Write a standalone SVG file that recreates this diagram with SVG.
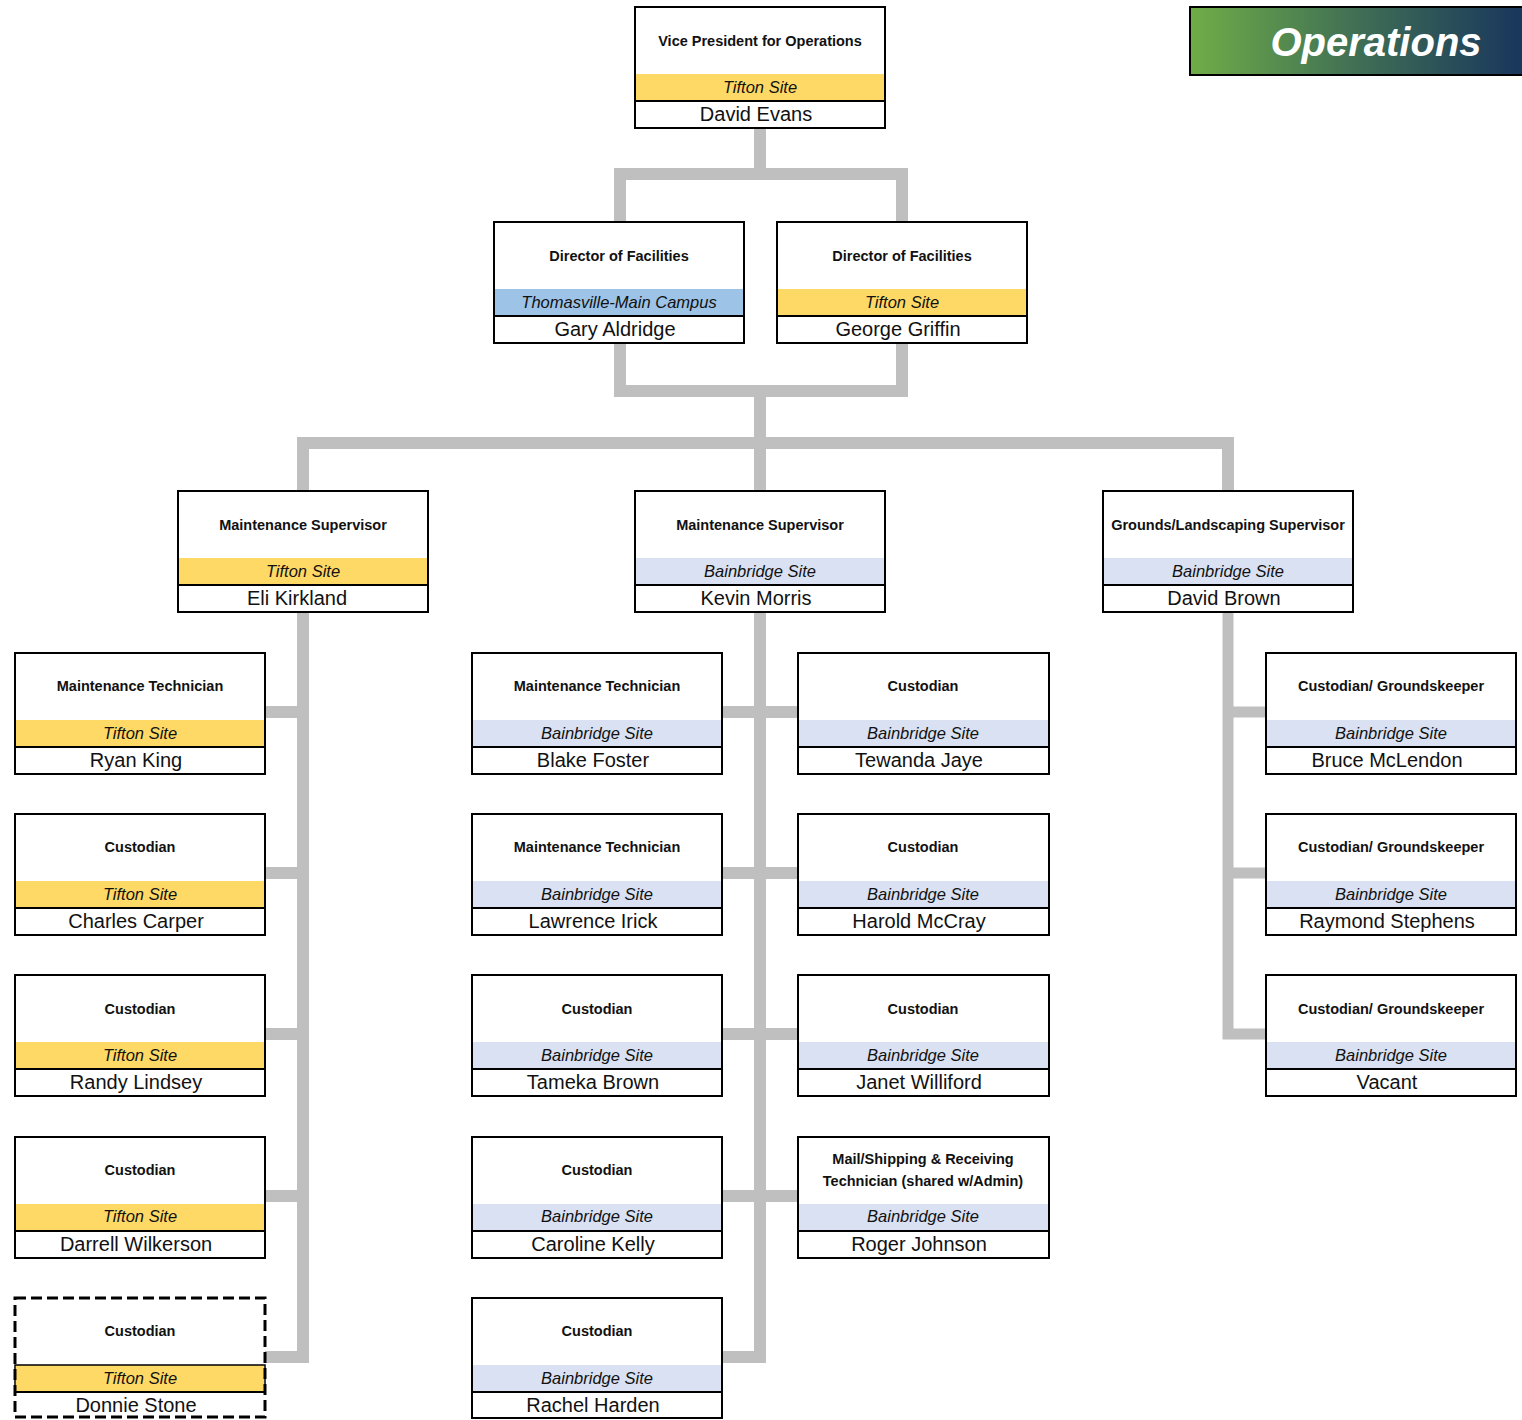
<svg xmlns="http://www.w3.org/2000/svg" width="1522" height="1420" viewBox="0 0 1522 1420">
<defs>
<linearGradient id="hdr" x1="0" y1="0" x2="1" y2="0">
<stop offset="0" stop-color="#70AD47"/>
<stop offset="0.5" stop-color="#3F6E55"/>
<stop offset="1" stop-color="#17335D"/>
</linearGradient>
</defs>
<style>
.box{fill:#fff;stroke:none}
.out{fill:none;stroke:#000;stroke-width:2}
.dash{fill:none;stroke:#000;stroke-width:3;stroke-dasharray:11 5}
.div{stroke:#000;stroke-width:2}
.tif{fill:#FFD966}
.bain{fill:#D9E1F2}
.thom{fill:#9DC3E6}
.bandline{fill:none;stroke:#000;stroke-width:1.5}
.t{font-family:"Liberation Sans",Arial,sans-serif;font-weight:bold;font-size:14.5px;fill:#111;text-anchor:middle}
.s{font-family:"Liberation Sans",Arial,sans-serif;font-style:italic;font-size:16.5px;fill:#111;text-anchor:middle}
.n{font-family:"Liberation Sans",Arial,sans-serif;font-size:20px;fill:#111;text-anchor:middle}
.c{fill:none;stroke:#BFBFBF;stroke-width:12;stroke-linecap:butt;stroke-linejoin:miter}
.c2{fill:none;stroke:#BFBFBF;stroke-width:11;stroke-linecap:butt;stroke-linejoin:miter}
.hdrt{font-family:"Liberation Sans",Arial,sans-serif;font-weight:bold;font-style:italic;font-size:40px;fill:#fff;text-anchor:middle}
</style>

<g id="header">
<rect x="1190" y="7" width="340" height="68" fill="url(#hdr)" stroke="#000" stroke-width="2"/>
<text x="1376" y="56" class="hdrt">Operations</text>
</g>

<g id="connectors">
<path class="c" d="M620 222 V174 H902 V222 M760 128 V174"/>
<path class="c" d="M620 343 V391 H902 V343 M760 391 V443"/>
<path class="c" d="M303 491 V443 H1228 V491 M760 443 V491"/>
<path class="c" d="M303 612 V1357 H265 M303 712 H265 M303 873 H265 M303 1034 H265 M303 1196 H265"/>
<path class="c" d="M760 612 V1357 H722 M722 712 H798 M722 873 H798 M722 1034 H798 M722 1196 H798"/>
<path class="c2" d="M1228 612 V1034 H1266 M1228 712 H1266 M1228 873 H1266"/>
</g>

<g id="vp">
<rect class="box" x="635" y="7" width="250" height="121"/>
<rect class="tif" x="636" y="74" width="248" height="26"/>
<line class="div" x1="635" y1="101" x2="885" y2="101"/>
<rect class="out" x="635" y="7" width="250" height="121"/>
<text class="t" x="760" y="46">Vice President for Operations</text>
<text class="s" x="760" y="93">Tifton Site</text>
<text class="n" x="756" y="121">David Evans</text>
</g>

<g id="dir-aldridge">
<rect class="box" x="494" y="222" width="250" height="121"/>
<rect class="thom" x="495" y="289" width="248" height="26"/>
<line class="div" x1="494" y1="316" x2="744" y2="316"/>
<rect class="out" x="494" y="222" width="250" height="121"/>
<text class="t" x="619" y="261">Director of Facilities</text>
<text class="s" x="619" y="308">Thomasville-Main Campus</text>
<text class="n" x="615" y="336">Gary Aldridge</text>
</g>

<g id="dir-griffin">
<rect class="box" x="777" y="222" width="250" height="121"/>
<rect class="tif" x="778" y="289" width="248" height="26"/>
<line class="div" x1="777" y1="316" x2="1027" y2="316"/>
<rect class="out" x="777" y="222" width="250" height="121"/>
<text class="t" x="902" y="261">Director of Facilities</text>
<text class="s" x="902" y="308">Tifton Site</text>
<text class="n" x="898" y="336">George Griffin</text>
</g>

<g id="sup-kirkland">
<rect class="box" x="178" y="491" width="250" height="121"/>
<rect class="tif" x="179" y="558" width="248" height="26"/>
<line class="div" x1="178" y1="585" x2="428" y2="585"/>
<rect class="out" x="178" y="491" width="250" height="121"/>
<text class="t" x="303" y="530">Maintenance Supervisor</text>
<text class="s" x="303" y="577">Tifton Site</text>
<text class="n" x="297" y="605">Eli Kirkland</text>
</g>

<g id="sup-morris">
<rect class="box" x="635" y="491" width="250" height="121"/>
<rect class="bain" x="636" y="558" width="248" height="26"/>
<line class="div" x1="635" y1="585" x2="885" y2="585"/>
<rect class="out" x="635" y="491" width="250" height="121"/>
<text class="t" x="760" y="530">Maintenance Supervisor</text>
<text class="s" x="760" y="577">Bainbridge Site</text>
<text class="n" x="756" y="605">Kevin Morris</text>
</g>

<g id="sup-brown">
<rect class="box" x="1103" y="491" width="250" height="121"/>
<rect class="bain" x="1104" y="558" width="248" height="26"/>
<line class="div" x1="1103" y1="585" x2="1353" y2="585"/>
<rect class="out" x="1103" y="491" width="250" height="121"/>
<text class="t" x="1228" y="530">Grounds/Landscaping Supervisor</text>
<text class="s" x="1228" y="577">Bainbridge Site</text>
<text class="n" x="1224" y="605">David Brown</text>
</g>

<g id="king">
<rect class="box" x="15" y="653" width="250" height="121"/>
<rect class="tif" x="16" y="720" width="248" height="26"/>
<line class="div" x1="15" y1="747" x2="265" y2="747"/>
<rect class="out" x="15" y="653" width="250" height="121"/>
<text class="t" x="140" y="691">Maintenance  Technician</text>
<text class="s" x="140" y="739">Tifton Site</text>
<text class="n" x="136" y="767">Ryan King</text>
</g>

<g id="carper">
<rect class="box" x="15" y="814" width="250" height="121"/>
<rect class="tif" x="16" y="881" width="248" height="26"/>
<line class="div" x1="15" y1="908" x2="265" y2="908"/>
<rect class="out" x="15" y="814" width="250" height="121"/>
<text class="t" x="140" y="852">Custodian</text>
<text class="s" x="140" y="900">Tifton Site</text>
<text class="n" x="136" y="928">Charles Carper</text>
</g>

<g id="lindsey">
<rect class="box" x="15" y="975" width="250" height="121"/>
<rect class="tif" x="16" y="1042" width="248" height="26"/>
<line class="div" x1="15" y1="1069" x2="265" y2="1069"/>
<rect class="out" x="15" y="975" width="250" height="121"/>
<text class="t" x="140" y="1014">Custodian</text>
<text class="s" x="140" y="1061">Tifton Site</text>
<text class="n" x="136" y="1089">Randy Lindsey</text>
</g>

<g id="wilkerson">
<rect class="box" x="15" y="1137" width="250" height="121"/>
<rect class="tif" x="16" y="1204" width="248" height="26"/>
<line class="div" x1="15" y1="1231" x2="265" y2="1231"/>
<rect class="out" x="15" y="1137" width="250" height="121"/>
<text class="t" x="140" y="1175">Custodian</text>
<text class="s" x="140" y="1222">Tifton Site</text>
<text class="n" x="136" y="1251">Darrell Wilkerson</text>
</g>

<g id="stone">
<rect class="box" x="15" y="1298" width="250" height="120"/>
<rect class="tif" x="16" y="1365" width="248" height="26"/>
<rect class="bandline" x="15" y="1365" width="250" height="27"/>
<line class="div" x1="15" y1="1392" x2="265" y2="1392"/>
<rect class="dash" x="15" y="1298" width="250" height="119"/>
<text class="t" x="140" y="1336">Custodian</text>
<text class="s" x="140" y="1384">Tifton Site</text>
<text class="n" x="136" y="1412">Donnie Stone</text>
</g>

<g id="foster">
<rect class="box" x="472" y="653" width="250" height="121"/>
<rect class="bain" x="473" y="720" width="248" height="26"/>
<line class="div" x1="472" y1="747" x2="722" y2="747"/>
<rect class="out" x="472" y="653" width="250" height="121"/>
<text class="t" x="597" y="691">Maintenance Technician</text>
<text class="s" x="597" y="739">Bainbridge Site</text>
<text class="n" x="593" y="767">Blake Foster</text>
</g>

<g id="irick">
<rect class="box" x="472" y="814" width="250" height="121"/>
<rect class="bain" x="473" y="881" width="248" height="26"/>
<line class="div" x1="472" y1="908" x2="722" y2="908"/>
<rect class="out" x="472" y="814" width="250" height="121"/>
<text class="t" x="597" y="852">Maintenance Technician</text>
<text class="s" x="597" y="900">Bainbridge Site</text>
<text class="n" x="593" y="928">Lawrence Irick</text>
</g>

<g id="tbrown">
<rect class="box" x="472" y="975" width="250" height="121"/>
<rect class="bain" x="473" y="1042" width="248" height="26"/>
<line class="div" x1="472" y1="1069" x2="722" y2="1069"/>
<rect class="out" x="472" y="975" width="250" height="121"/>
<text class="t" x="597" y="1014">Custodian</text>
<text class="s" x="597" y="1061">Bainbridge Site</text>
<text class="n" x="593" y="1089">Tameka Brown</text>
</g>

<g id="kelly">
<rect class="box" x="472" y="1137" width="250" height="121"/>
<rect class="bain" x="473" y="1204" width="248" height="26"/>
<line class="div" x1="472" y1="1231" x2="722" y2="1231"/>
<rect class="out" x="472" y="1137" width="250" height="121"/>
<text class="t" x="597" y="1175">Custodian</text>
<text class="s" x="597" y="1222">Bainbridge Site</text>
<text class="n" x="593" y="1251">Caroline Kelly</text>
</g>

<g id="harden">
<rect class="box" x="472" y="1298" width="250" height="120"/>
<rect class="bain" x="473" y="1365" width="248" height="26"/>
<line class="div" x1="472" y1="1392" x2="722" y2="1392"/>
<rect class="out" x="472" y="1298" width="250" height="120"/>
<text class="t" x="597" y="1336">Custodian</text>
<text class="s" x="597" y="1384">Bainbridge Site</text>
<text class="n" x="593" y="1412">Rachel Harden</text>
</g>

<g id="jaye">
<rect class="box" x="798" y="653" width="251" height="121"/>
<rect class="bain" x="799" y="720" width="249" height="26"/>
<line class="div" x1="798" y1="747" x2="1049" y2="747"/>
<rect class="out" x="798" y="653" width="251" height="121"/>
<text class="t" x="923" y="691">Custodian</text>
<text class="s" x="923" y="739">Bainbridge Site</text>
<text class="n" x="919" y="767">Tewanda Jaye</text>
</g>

<g id="mccray">
<rect class="box" x="798" y="814" width="251" height="121"/>
<rect class="bain" x="799" y="881" width="249" height="26"/>
<line class="div" x1="798" y1="908" x2="1049" y2="908"/>
<rect class="out" x="798" y="814" width="251" height="121"/>
<text class="t" x="923" y="852">Custodian</text>
<text class="s" x="923" y="900">Bainbridge Site</text>
<text class="n" x="919" y="928">Harold McCray</text>
</g>

<g id="williford">
<rect class="box" x="798" y="975" width="251" height="121"/>
<rect class="bain" x="799" y="1042" width="249" height="26"/>
<line class="div" x1="798" y1="1069" x2="1049" y2="1069"/>
<rect class="out" x="798" y="975" width="251" height="121"/>
<text class="t" x="923" y="1014">Custodian</text>
<text class="s" x="923" y="1061">Bainbridge Site</text>
<text class="n" x="919" y="1089">Janet Williford</text>
</g>

<g id="johnson">
<rect class="box" x="798" y="1137" width="251" height="121"/>
<rect class="bain" x="799" y="1204" width="249" height="26"/>
<line class="div" x1="798" y1="1231" x2="1049" y2="1231"/>
<rect class="out" x="798" y="1137" width="251" height="121"/>
<text class="t" x="923" y="1164">Mail/Shipping &amp; Receiving</text>
<text class="t" x="923" y="1186">Technician (shared w/Admin)</text>
<text class="s" x="923" y="1222">Bainbridge Site</text>
<text class="n" x="919" y="1251">Roger Johnson</text>
</g>

<g id="mclendon">
<rect class="box" x="1266" y="653" width="250" height="121"/>
<rect class="bain" x="1267" y="720" width="248" height="26"/>
<line class="div" x1="1266" y1="747" x2="1516" y2="747"/>
<rect class="out" x="1266" y="653" width="250" height="121"/>
<text class="t" x="1391" y="691">Custodian/ Groundskeeper</text>
<text class="s" x="1391" y="739">Bainbridge Site</text>
<text class="n" x="1387" y="767">Bruce McLendon</text>
</g>

<g id="stephens">
<rect class="box" x="1266" y="814" width="250" height="121"/>
<rect class="bain" x="1267" y="881" width="248" height="26"/>
<line class="div" x1="1266" y1="908" x2="1516" y2="908"/>
<rect class="out" x="1266" y="814" width="250" height="121"/>
<text class="t" x="1391" y="852">Custodian/ Groundskeeper</text>
<text class="s" x="1391" y="900">Bainbridge Site</text>
<text class="n" x="1387" y="928">Raymond Stephens</text>
</g>

<g id="vacant">
<rect class="box" x="1266" y="975" width="250" height="121"/>
<rect class="bain" x="1267" y="1042" width="248" height="26"/>
<line class="div" x1="1266" y1="1069" x2="1516" y2="1069"/>
<rect class="out" x="1266" y="975" width="250" height="121"/>
<text class="t" x="1391" y="1014">Custodian/ Groundskeeper</text>
<text class="s" x="1391" y="1061">Bainbridge Site</text>
<text class="n" x="1387" y="1089">Vacant</text>
</g>
</svg>
